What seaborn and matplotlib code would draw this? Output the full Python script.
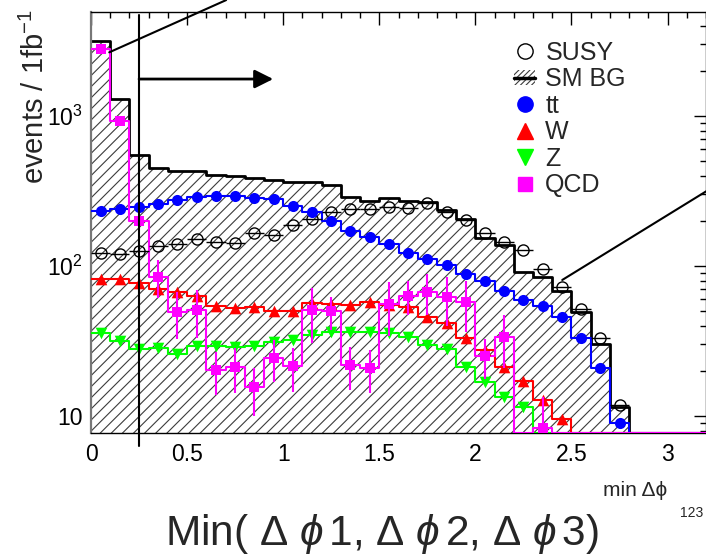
import numpy as np
import pandas as pd
import matplotlib
matplotlib.use("Agg")
import matplotlib.pyplot as plt
from matplotlib.lines import Line2D
from matplotlib.patches import Patch
from matplotlib.legend_handler import HandlerTuple
from matplotlib.ticker import MultipleLocator, LogLocator, FixedLocator, FixedFormatter, NullFormatter
import seaborn as sns

# ---- histogram contents: events / 1 fb^-1 per 0.1 bin of min delta-phi ----
bin_edges = np.linspace(0.0, 3.2, 33)
bin_centers = 0.5 * (bin_edges[:-1] + bin_edges[1:])

sm_bg = [3180, 1300, 554, 447, 427, 430, 404, 401, 386, 374, 363, 366, 347, 288, 271, 284,
         271, 267, 236, 206, 154, 138, 91, 85, 68, 49, 30, 11.5, 0, 0, 0, 0]
susy = [122, 120, 126, 135, 141, 151, 145, 143, 166, 161, 187, 206, 229, 239, 240, 249,
        242, 263, 230, 203, 165, 145, 127, 95, 73, 52, 33, 11.8, 0, 0, 0, 0]
ttbar = [234, 241, 246, 259, 275, 290, 293, 294, 285, 279, 251, 228, 200, 171, 157, 140,
         123, 111, 101, 88, 79, 68, 59, 54, 46, 33, 21, 9.0, 0, 0, 0, 0]
wjets = [82, 81.5, 77, 70, 67.4, 63, 54, 52.5, 53.3, 49.9, 49.9, 56.4, 56, 55.2, 57.3, 55,
         53.3, 45.7, 41.9, 33, 27.5, 21.3, 17.1, 12.7, 9.55, 0, 0, 0, 0, 0, 0, 0]
zjets = [35.6, 31.5, 28, 28.3, 26, 29.1, 29.1, 28.7, 29.1, 31, 32.1, 34.7, 36.5, 36.5, 36.3, 35.8,
         33.5, 29.7, 27.9, 21.3, 16.9, 13.4, 11.5, 0, 0, 0, 0, 0, 0, 0, 0, 0]
qcd = [2790, 930, 200, 85, 49.6, 50.9, 20.3, 21.3, 15.5, 24.5, 21.5, 51, 50, 22, 21, 56,
       63.4, 67.4, 62.4, 57.8, 25.1, 33.8, 0, 8.3, 0, 0, 0, 0, 0, 0, 0, 0]
qcd_err = [60, 30, 12, 24, 17, 18, 6.5, 7, 5.5, 7.6, 7, 20.5, 12.5, 7, 6.7, 22,
           16, 20.5, 22.7, 21.7, 7.4, 13, 0, 5.1, 0, 0, 0, 0, 0, 0, 0, 0]

x_ticks = [0, 0.5, 1, 1.5, 2, 2.5, 3]
x_tick_labels = ["0", "0.5", "1", "1.5", "2", "2.5", "3"]
y_ticks = [10, 100, 1000]
y_tick_labels = ["10", r"$\mathregular{10^{2}}$", r"$\mathregular{10^{3}}$"]
legend_labels = ["SUSY", "SM BG", "tt", "W", "Z", "QCD"]

cut_value = 0.25

sns.set_theme(style="white")
plt.rcParams["font.family"] = ["Liberation Sans", "DejaVu Sans"]
plt.rcParams["mathtext.fontset"] = "custom"
plt.rcParams["mathtext.rm"] = "Liberation Sans"
plt.rcParams["mathtext.it"] = "Liberation Sans:italic"
plt.rcParams["hatch.linewidth"] = 0.8

W, H = 706, 556
fig = plt.figure(figsize=(W / 100, H / 100), dpi=100)
fig.patch.set_facecolor("white")
ax = fig.add_axes([91 / W, 1 - 433 / H, (706 - 91) / W, (433 - 12) / H])
ax.set_facecolor("white")

y_lo, y_hi = 7.7, 4940
ax.set_yscale("log")


def floor(vals):
    # empty bins sit on the lower frame edge
    return np.clip(np.asarray(vals, float), y_lo, None)


# hatched SM background
ax.stairs(floor(sm_bg), bin_edges, baseline=1e-3, fill=True, hatch="///",
          facecolor="none", edgecolor="#3c3c3c", linewidth=0, zorder=1)


# step outlines
def step(vals, color, lw, z):
    frame = pd.DataFrame({"x": bin_centers, "w": floor(vals)})
    sns.histplot(data=frame, x="x", weights="w", bins=list(bin_edges), element="step",
                 fill=False, color=color, linewidth=lw, ax=ax, zorder=z)


step(sm_bg, "black", 2.0, 2)
step(ttbar, "#0000ff", 1.5, 3)
step(wjets, "#ff0000", 1.5, 3)
step(zjets, "#00ff00", 1.5, 3)
step(qcd, "#ff00ff", 1.5, 4)


def pos(vals):
    v = np.asarray(vals, float)
    m = v > 0
    return bin_centers[m], v[m], m


# SUSY: open circles with horizontal bin-width bars
sx, sy, _ = pos(susy)
ax.errorbar(sx, sy, xerr=0.05, fmt="o", mfc="none", mec="black", mew=1.0, ms=8,
            ecolor="black", elinewidth=1.0, capsize=0, zorder=5)

for vals, color, marker, size in [(ttbar, "#0000ff", "o", 64),
                                  (wjets, "#ff0000", "^", 70),
                                  (zjets, "#00ff00", "v", 70)]:
    px, py, _ = pos(vals)
    sns.scatterplot(x=px, y=py, marker=marker, s=size, color=color, edgecolor=color,
                    linewidth=0, ax=ax, zorder=6)

qx, qy, qm = pos(qcd)
ax.errorbar(qx, qy, yerr=np.asarray(qcd_err, float)[qm], fmt="none", ecolor="#ff00ff",
            elinewidth=1.5, capsize=0, zorder=6)
sns.scatterplot(x=qx, y=qy, marker="s", s=62, color="#ff00ff", edgecolor="#ff00ff",
                linewidth=0, ax=ax, zorder=7)

# cut line, direction arrow and guide lines
ax.plot([cut_value, cut_value], [4710, 6.3], color="black", lw=1.5, clip_on=False, zorder=8)
ax.annotate("", xy=(0.948, 1765), xytext=(cut_value, 1765),
            arrowprops=dict(arrowstyle="-|>", color="black", lw=2, mutation_scale=28,
                            shrinkA=0, shrinkB=0), annotation_clip=False, zorder=8)
ax.plot([0.095, 0.703], [2660, 5930], color="black", lw=1.5, clip_on=False, zorder=8)
ax.plot([2.452, 3.203], [80.7, 316], color="black", lw=1.5, clip_on=False, zorder=8)

ax.set_xlim(0, 3.2)
ax.set_ylim(y_lo, y_hi)
ax.set_xlabel("")
ax.set_ylabel("")

ax.xaxis.set_major_locator(FixedLocator(x_ticks))
ax.xaxis.set_major_formatter(FixedFormatter(x_tick_labels))
ax.xaxis.set_minor_locator(MultipleLocator(0.1))
ax.yaxis.set_major_locator(FixedLocator(y_ticks))
ax.yaxis.set_major_formatter(FixedFormatter(y_tick_labels))
ax.yaxis.set_minor_locator(LogLocator(base=10, subs=np.arange(2, 10)))
ax.yaxis.set_minor_formatter(NullFormatter())
ax.tick_params(which="both", direction="in", top=True, right=True, colors="black",
               labelsize=16.5, width=1)
ax.tick_params(which="major", length=9)
ax.tick_params(which="minor", length=4.5)
ax.tick_params(axis="x", which="major", pad=7)
ax.tick_params(axis="y", which="major", pad=6)
for side in ["top", "right", "bottom"]:
    ax.spines[side].set_color("black")
    ax.spines[side].set_linewidth(1.0)
ax.spines["left"].set_color("#777777")
ax.spines["left"].set_linewidth(1.6)

# legend
handles = [
    Line2D([], [], ls="none", marker="o", mfc="none", mec="black", mew=1.0, ms=11),
    (Patch(facecolor="none", edgecolor="#3c3c3c", hatch="//////", lw=0),
     Line2D([], [], color="black", lw=2.5)),
    Line2D([], [], ls="none", marker="o", color="#0000ff", ms=11),
    Line2D([], [], ls="none", marker="^", color="#ff0000", ms=11),
    Line2D([], [], ls="none", marker="v", color="#00ff00", ms=11),
    Line2D([], [], ls="none", marker="s", color="#ff00ff", ms=10.5),
]
ax.legend(handles, legend_labels, handler_map={tuple: HandlerTuple(ndivide=1, pad=0)},
          loc="upper left", bbox_to_anchor=(0.688, 0.932), frameon=False, fontsize=18,
          handlelength=0.85, handleheight=0.55, handletextpad=0.4, labelspacing=0.1,
          borderaxespad=0, borderpad=0)

# axis titles
fig.text(35 / W, 1 - 9 / H, r"events / 1fb$^{-1}$", rotation=90, ha="center", va="top",
         fontsize=21)
fig.text(667 / W, 1 - 496 / H, "min Δϕ", ha="right", va="baseline", fontsize=15)
fig.text(680 / W, 1 - 517 / H, "123", ha="left", va="baseline", fontsize=10)
fig.text(382 / W, 1 - 545 / H,
         r"Min( $\Delta\ \phi\,$1, $\Delta\ \phi\,$2, $\Delta\ \phi\,$3)",
         ha="center", va="baseline", fontsize=30.5)

fig.savefig("out.png", dpi=100, facecolor="white")
